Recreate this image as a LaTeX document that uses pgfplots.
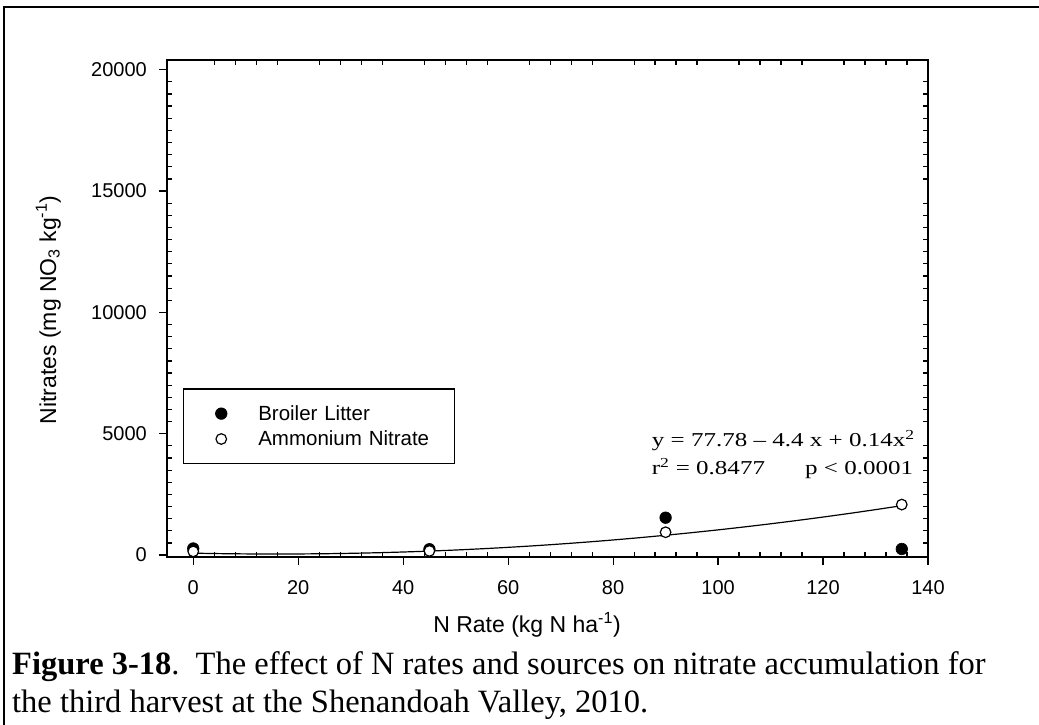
\documentclass[border=0pt]{standalone}
\usepackage{pgfplots}
\pgfplotsset{compat=1.18}
\usepackage{fontspec}
\setmainfont{Liberation Serif}
\setsansfont{Liberation Sans}
\newfontfamily\arial{Liberation Sans}
\newfontfamily\tnr[Ligatures=TeX]{Liberation Serif}
\usepackage{graphicx}

\pgfplotstableread{
x y
0 270
45 240
90 1540
135 250
}\broiler

\pgfplotstableread{
x y
0 150
45 170
90 940
135 2080
}\ammonium

\pgfplotstableread{
x y
0 77.78
5 59.28
10 47.78
15 43.28
20 45.78
25 55.28
30 71.78
35 95.28
40 125.78
45 163.28
50 207.78
55 259.28
60 317.78
65 383.28
70 455.78
75 535.28
80 621.78
85 715.28
90 815.78
95 923.28
100 1037.78
105 1159.28
110 1287.78
115 1423.28
120 1565.78
125 1715.28
130 1871.78
135 2035.28
}\fit

\begin{document}
\begin{tikzpicture}[x=1pt,y=1pt]
\useasboundingbox (0,0) rectangle (1039,725);
\draw[line width=2pt] (4,-20) -- (4,718) -- (1060,718);

% minor ticks (inside) on all four sides
\begin{axis}[
  at={(167pt,168pt)}, anchor=south west,
  scale only axis, width=761pt, height=497pt,
  xmin=-5, xmax=140, ymin=-80, ymax=20400,
  xtick={0,20,...,140}, ytick={0,5000,...,20000},
  minor x tick num=4, minor y tick num=9,
  major tick length=0pt, minor tick length=5pt,
  tick align=inside, tick pos=both,
  scaled ticks=false,
  xticklabel=\empty, yticklabel=\empty,
  axis line style={line width=1.2pt},
  every tick/.style={black, line width=1.2pt},
]
\addplot[draw=none] coordinates {(0,0)};
\end{axis}

\begin{axis}[
  at={(167pt,168pt)}, anchor=south west,
  scale only axis, width=761pt, height=497pt,
  xmin=-5, xmax=140, ymin=-80, ymax=20400,
  xtick={0,20,...,140}, ytick={0,5000,...,20000},
  tick pos=left, tick align=outside, major tick length=8pt,
  axis line style={line width=1.2pt},
  every tick/.style={black, line width=1.2pt},
  /pgf/number format/assume math mode=true,
  ticklabel style={font=\arial\fontsize{20}{24}\selectfont},
  scaled ticks=false,
  yticklabel style={/pgf/number format/set thousands separator={}, inner sep=0pt, anchor=east, xshift=-12pt},
  xticklabel style={inner sep=0pt, anchor=north, yshift=-15pt},
  legend cell align=left,
  legend style={at={(0.0206,0.3394)}, anchor=north west, draw=black, line width=1.2pt,
    inner xsep=0pt, inner ysep=12pt, row sep=0pt,
    font=\arial\fontsize{20.5}{24}\selectfont,
    nodes={inner sep=0pt, text width=196pt, align=left}},
  legend image code/.code={\path[draw=none,fill=none] (-38pt,-12.7pt) rectangle (37pt,12.7pt);
    \path[#1,draw=none] plot coordinates {(0pt,0pt)};},
]
\addplot[black, line width=1.2pt, smooth, no marks, forget plot] table[x=x,y=y] {\fit};
\addplot[only marks, mark=*, mark size=5.8pt, mark options={draw=black, fill=black, line width=0.6pt}] table[x=x,y=y] {\broiler};
\addlegendentry{Broiler Litter}
\addplot[only marks, mark=*, mark size=5.3pt, mark options={draw=black, fill=white, line width=1.2pt}] table[x=x,y=y] {\ammonium};
\addlegendentry{Ammonium Nitrate}
\end{axis}

% regression text
\node[anchor=base west, inner sep=0pt] at (651.7,278.3)
  {\scalebox{1.27}[1]{\tnr\fontsize{19.7}{24}\selectfont y = 77.78 – 4.4 x + 0.14x\textsuperscript{2}}};
\node[anchor=base west, inner sep=0pt] at (651.7,250)
  {\scalebox{1.27}[1]{\tnr\fontsize{19.7}{24}\selectfont r\textsuperscript{2} = 0.8477}};
\node[anchor=base east, inner sep=0pt] at (913.3,250)
  {\scalebox{1.27}[1]{\tnr\fontsize{19.7}{24}\selectfont p < 0.0001}};

% axis labels
\node[anchor=base, inner sep=0pt] at (527,92)
  {\arial\fontsize{23}{27}\selectfont N Rate (kg N ha\textsuperscript{-1})};
\node[rotate=90, anchor=base, inner sep=0pt] at (56,415)
  {\arial\fontsize{23}{27}\selectfont Nitrates (mg NO\textsubscript{3} kg\textsuperscript{-1})};

% caption
\node[anchor=base west, inner sep=0pt] at (12,50)
  {\tnr\fontsize{32.5}{38}\selectfont\textbf{Figure 3-18}.\ \ The effect of N rates and sources on nitrate accumulation for};
\node[anchor=base west, inner sep=0pt] at (12,12)
  {\tnr\fontsize{32.5}{38}\selectfont the third harvest at the Shenandoah Valley, 2010.};
\end{tikzpicture}
\end{document}
